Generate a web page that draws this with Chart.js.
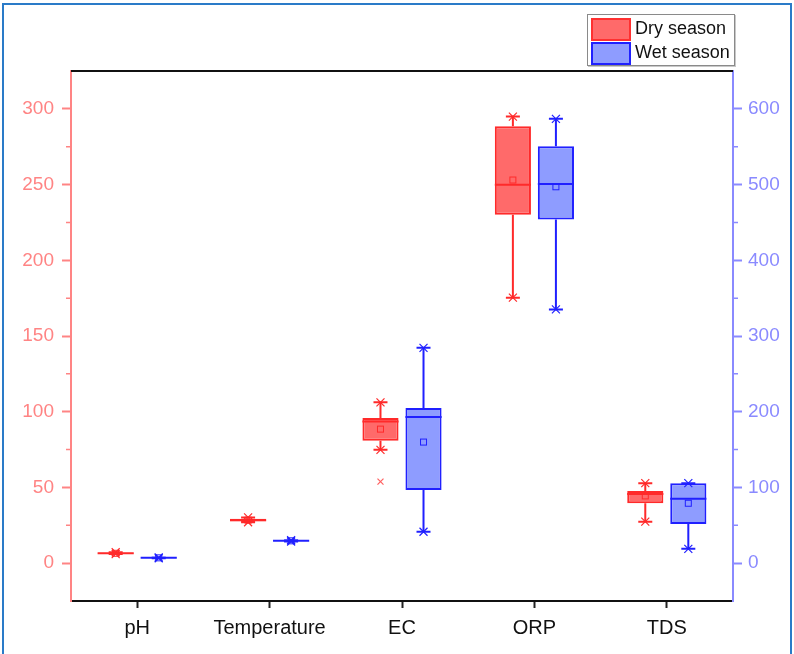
<!DOCTYPE html>
<html>
<head>
<meta charset="utf-8">
<script src="https://cdn.jsdelivr.net/npm/chart.js@4.4.1/dist/chart.umd.min.js"></script>
<style>
  html, body { margin: 0; padding: 0; background: #fff; }
  #wrap { position: relative; width: 794px; height: 654px; overflow: hidden; }
  #frame {
    position: absolute; left: 2px; top: 3px; width: 786px; height: 700px;
    border: 2px solid #2a7bc8; pointer-events: none;
  }
  #legend {
    position: absolute; left: 587px; top: 14px; width: 146px; height: 50px;
    border: 1px solid #8a8a8a; box-shadow: 1px 1px 0 #c8c8c8; background: #fff;
    font-family: "Liberation Sans", Arial, sans-serif; font-size: 18px; color: #111;
  }
  .item { position: absolute; left: 3px; height: 23px; line-height: 23px; white-space: nowrap; }
  .sw { display: inline-block; width: 36px; height: 19px; vertical-align: top; margin-top: 1px; margin-right: 4px; }
</style>
</head>
<body>
<div id="wrap">
  <canvas id="chart" width="794" height="654"></canvas>
  <div id="legend">
    <div class="item" style="top:2px"><span class="sw" style="background:#ff6a6a;border:2px solid #ff3030"></span>Dry season</div>
    <div class="item" style="top:26px"><span class="sw" style="background:#8e9cff;border:2px solid #2020ff"></span>Wet season</div>
  </div>
  <div id="frame"></div>
</div>
<script>
const categories = ['pH', 'Temperature', 'EC', 'ORP', 'TDS'];

// dry season, left axis
const dryMin = [6.0, 27.0, 74.8, 175.3, 27.4];
const dryQ1 = [6.3, 27.6, 80.8, 230.0, 39.5];
const dryMedian = [6.5, 28.4, 93.6, 249.9, 45.7];
const dryQ3 = [6.8, 29.3, 95.8, 288.5, 47.7];
const dryMax = [7.2, 30.2, 106.2, 294.9, 52.8];
const dryMean = [6.5, 28.4, 88.5, 253.0, 44.4];
const dryOutliers = [[], [], [53.8], [], []];

// wet season, right axis
const wetMin = [6.4, 28.6, 41.5, 335.1, 18.9];
const wetQ1 = [6.8, 29.1, 96.7, 453.9, 51.7];
const wetMedian = [7.0, 29.5, 193.0, 500.7, 85.2];
const wetQ3 = [7.3, 29.9, 204.9, 550.6, 105.6];
const wetMax = [7.6, 30.4, 284.4, 586.8, 105.6];
const wetMean = [7.0, 29.5, 159.9, 497.1, 79.1];
const wetOutliers = [[], [], [], [], []];

const leftTicks = [0, 50, 100, 150, 200, 250, 300];
const rightTicks = [0, 100, 200, 300, 400, 500, 600];

const FONT = '"Liberation Sans", Arial, sans-serif';
const RED_AXIS = '#ff8484';
const BLUE_AXIS = '#8a8aff';

const series = [
  { min: dryMin, q1: dryQ1, med: dryMedian, q3: dryQ3, max: dryMax, mean: dryMean, out: dryOutliers,
    line: '#ff2a2a', fill: '#ff6a6a', outColor: '#ff6060', axis: 'y' },
  { min: wetMin, q1: wetQ1, med: wetMedian, q3: wetQ3, max: wetMax, mean: wetMean, out: wetOutliers,
    line: '#2020ff', fill: '#8e9cff', outColor: '#4040ff', axis: 'y1' },
];

// whiskers, medians, means, min/max stars and outliers on top of the bars
const boxExtras = {
  id: 'boxExtras',
  afterDatasetsDraw(chart) {
    const ctx = chart.ctx;
    series.forEach((s, di) => {
      const meta = chart.getDatasetMeta(di);
      const ys = chart.scales[s.axis];
      meta.data.forEach((bar, i) => {
        const x = bar.x;
        const half = bar.width / 2;
        const yMin = ys.getPixelForValue(s.min[i]);
        const yMax = ys.getPixelForValue(s.max[i]);
        const yQ1 = ys.getPixelForValue(s.q1[i]);
        const yQ3 = ys.getPixelForValue(s.q3[i]);
        const yMed = ys.getPixelForValue(s.med[i]);
        const yMean = ys.getPixelForValue(s.mean[i]);
        ctx.save();
        ctx.strokeStyle = s.line;
        ctx.lineWidth = 2;
        ctx.beginPath();
        ctx.moveTo(x, yQ3); ctx.lineTo(x, yMax);
        ctx.moveTo(x, yQ1); ctx.lineTo(x, yMin);
        ctx.moveTo(x - 7, yMax); ctx.lineTo(x + 7, yMax);
        ctx.moveTo(x - 7, yMin); ctx.lineTo(x + 7, yMin);
        ctx.moveTo(x - half, yMed); ctx.lineTo(x + half, yMed);
        ctx.stroke();
        // star markers at min and max
        ctx.lineWidth = 1.2;
        ctx.beginPath();
        [yMin, yMax].forEach((yy) => {
          ctx.moveTo(x - 4, yy - 4); ctx.lineTo(x + 4, yy + 4);
          ctx.moveTo(x - 4, yy + 4); ctx.lineTo(x + 4, yy - 4);
        });
        ctx.stroke();
        // mean square
        ctx.lineWidth = 1;
        ctx.strokeRect(x - 3, yMean - 3, 6, 6);
        // outliers
        ctx.strokeStyle = s.outColor;
        ctx.lineWidth = 1.2;
        s.out[i].forEach((v) => {
          const yy = ys.getPixelForValue(v);
          ctx.beginPath();
          ctx.moveTo(x - 3, yy - 3); ctx.lineTo(x + 3, yy + 3);
          ctx.moveTo(x - 3, yy + 3); ctx.lineTo(x + 3, yy - 3);
          ctx.stroke();
        });
        ctx.restore();
      });
    });
  },
  afterDraw(chart) {
    const ctx = chart.ctx;
    const a = chart.chartArea;
    ctx.save();
    // top frame line
    ctx.strokeStyle = '#111';
    ctx.lineWidth = 2;
    ctx.beginPath();
    ctx.moveTo(a.left, a.top); ctx.lineTo(a.right, a.top);
    ctx.stroke();
    // minor ticks
    ctx.lineWidth = 1.5;
    const yl = chart.scales.y;
    ctx.strokeStyle = RED_AXIS;
    ctx.beginPath();
    for (let i = 0; i < leftTicks.length - 1; i++) {
      const py = yl.getPixelForValue((leftTicks[i] + leftTicks[i + 1]) / 2);
      ctx.moveTo(a.left - 5, py); ctx.lineTo(a.left, py);
    }
    ctx.stroke();
    const yr = chart.scales.y1;
    ctx.strokeStyle = BLUE_AXIS;
    ctx.beginPath();
    for (let i = 0; i < rightTicks.length - 1; i++) {
      const py = yr.getPixelForValue((rightTicks[i] + rightTicks[i + 1]) / 2);
      ctx.moveTo(a.right, py); ctx.lineTo(a.right + 5, py);
    }
    ctx.stroke();
    ctx.restore();
  },
};

new Chart(document.getElementById('chart'), {
  type: 'bar',
  data: {
    labels: categories,
    datasets: series.map((s, di) => ({
      label: di === 0 ? 'Dry season' : 'Wet season',
      data: s.q1.map((v, i) => [v, s.q3[i]]),
      yAxisID: s.axis,
      backgroundColor: s.fill,
      borderColor: s.line,
      borderWidth: 2,
      borderSkipped: false,
      categoryPercentage: 0.65,
      barPercentage: 0.84,
    })),
  },
  options: {
    responsive: false,
    animation: false,
    devicePixelRatio: 1,
    layout: { padding: { top: 71, left: 0, right: 0, bottom: 0 } },
    plugins: { legend: { display: false }, tooltip: { enabled: false } },
    scales: {
      x: {
        offset: true,
        grid: { offset: false, drawOnChartArea: false, tickLength: 7, tickWidth: 2, tickColor: '#222', color: '#222' },
        border: { color: '#111', width: 2 },
        ticks: { color: '#111', font: { family: FONT, size: 20 }, padding: 8 },
        afterFit: (s) => { s.height = 53; },
      },
      y: {
        position: 'left',
        min: -25,
        max: 325,
        afterBuildTicks: (s) => { s.ticks = leftTicks.map((v) => ({ value: v })); },
        grid: { drawOnChartArea: false, tickLength: 9, tickWidth: 2, tickColor: RED_AXIS },
        border: { color: RED_AXIS, width: 2 },
        ticks: { color: RED_AXIS, font: { family: FONT, size: 19 }, padding: 8 },
        afterFit: (s) => { s.width = 71; },
      },
      y1: {
        position: 'right',
        min: -50,
        max: 650,
        afterBuildTicks: (s) => { s.ticks = rightTicks.map((v) => ({ value: v })); },
        grid: { drawOnChartArea: false, tickLength: 9, tickWidth: 2, tickColor: BLUE_AXIS },
        border: { color: BLUE_AXIS, width: 2 },
        ticks: { color: BLUE_AXIS, font: { family: FONT, size: 19 }, padding: 6 },
        afterFit: (s) => { s.width = 61; },
      },
    },
  },
  plugins: [boxExtras],
});
</script>
</body>
</html>
